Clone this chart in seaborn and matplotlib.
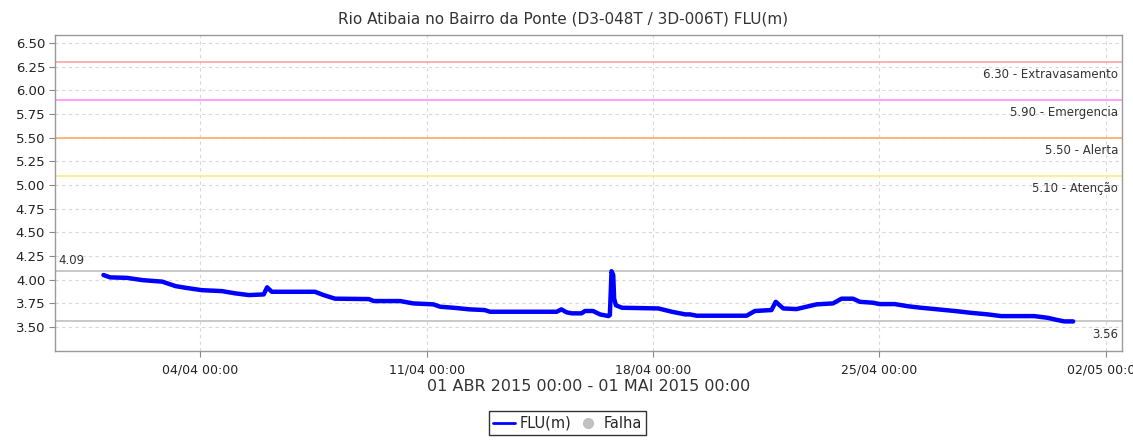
import numpy as np
import pandas as pd
import matplotlib
matplotlib.use('Agg')
from matplotlib import pyplot as plt
from matplotlib.lines import Line2D
import seaborn as sns

# the data
times = ['2015-04-01 00:00', '2015-04-01 05:00', '2015-04-01 17:30', '2015-04-02 05:00',
         '2015-04-02 19:40', '2015-04-03 05:30', '2015-04-03 13:00', '2015-04-04 01:00',
         '2015-04-04 16:00', '2015-04-05 02:00', '2015-04-05 12:00', '2015-04-05 23:00',
         '2015-04-06 01:30', '2015-04-06 05:00', '2015-04-07 13:00', '2015-04-07 19:30',
         '2015-04-08 04:00', '2015-04-09 05:00', '2015-04-09 08:40', '2015-04-10 04:20',
         '2015-04-10 14:00', '2015-04-11 05:00', '2015-04-11 10:00', '2015-04-11 20:00',
         '2015-04-12 08:00', '2015-04-12 19:00', '2015-04-12 23:00', '2015-04-15 00:30',
         '2015-04-15 04:00', '2015-04-15 08:00', '2015-04-15 12:00', '2015-04-15 19:00',
         '2015-04-15 21:30', '2015-04-16 03:30', '2015-04-16 08:40', '2015-04-16 15:00',
         '2015-04-16 16:00', '2015-04-16 17:15', '2015-04-16 18:30', '2015-04-16 19:10',
         '2015-04-16 20:30', '2015-04-17 01:00', '2015-04-18 04:00', '2015-04-18 14:00',
         '2015-04-19 00:00', '2015-04-19 03:30', '2015-04-19 08:30', '2015-04-20 21:30',
         '2015-04-21 03:40', '2015-04-21 16:00', '2015-04-21 19:10', '2015-04-22 00:45',
         '2015-04-22 10:30', '2015-04-22 18:00', '2015-04-23 01:30', '2015-04-23 13:40',
         '2015-04-23 20:00', '2015-04-24 04:30', '2015-04-24 09:40', '2015-04-24 19:30',
         '2015-04-25 00:15', '2015-04-25 11:30', '2015-04-25 21:20', '2015-04-26 07:10',
         '2015-04-26 19:40', '2015-04-27 08:00', '2015-04-27 20:30', '2015-04-28 08:40',
         '2015-04-28 18:30', '2015-04-29 19:10', '2015-04-30 05:00', '2015-04-30 12:30',
         '2015-04-30 17:30', '2015-05-01 00:00']
flu = [4.05, 4.025, 4.02, 3.996,
       3.98, 3.933, 3.915, 3.89,
       3.88, 3.856, 3.838, 3.845,
       3.92, 3.873, 3.873, 3.838,
       3.80, 3.796, 3.775, 3.775,
       3.75, 3.74, 3.715, 3.704,
       3.687, 3.68, 3.662, 3.662,
       3.687, 3.655, 3.645, 3.645,
       3.67, 3.67, 3.634, 3.616,
       3.627, 4.09, 4.05, 3.80,
       3.73, 3.704, 3.697, 3.662,
       3.634, 3.634, 3.62, 3.62,
       3.67, 3.68, 3.767, 3.697,
       3.69, 3.715, 3.74, 3.75,
       3.80, 3.80, 3.767, 3.757,
       3.743, 3.743, 3.72, 3.704,
       3.687, 3.67, 3.65, 3.634,
       3.616, 3.616, 3.598, 3.574,
       3.56, 3.56]

levels = [6.30, 5.90, 5.50, 5.10]
level_names = ['Extravasamento', 'Emergencia', 'Alerta', 'Atenção']
level_colors = ['#ffaaaa', '#ff99ff', '#ffb070', '#ffee88']
xtick_dates = ['2015-04-04', '2015-04-11', '2015-04-18', '2015-04-25', '2015-05-02']

df = pd.DataFrame({'time': pd.to_datetime(times), 'flu': flu})

sns.set_style('white')
plt.rcParams['font.family'] = ['DejaVu Sans']

fig = plt.figure(figsize=(11.33, 4.41), dpi=100)
ax = fig.add_axes([0.0485, 0.204, 0.9415, 0.7166])

# threshold lines with labels
for lv, name, col in zip(levels, level_names, level_colors):
    ax.axhline(lv, color=col, lw=1.3, zorder=2)
    ax.text(0.9965, lv - 0.065, f'{lv:.2f} - {name}', transform=ax.get_yaxis_transform(),
            ha='right', va='top', fontsize=8.5, color='#333333')

# max / min markers
vmax, vmin = df['flu'].max(), df['flu'].min()
ax.axhline(vmax, color='#c0c0c0', lw=1.2, zorder=2)
ax.axhline(vmin, color='#c0c0c0', lw=1.2, zorder=2)
ax.text(0.003, vmax + 0.045, f'{vmax:.2f}', transform=ax.get_yaxis_transform(),
        ha='left', va='bottom', fontsize=8.5, color='#333333')
ax.text(0.9965, vmin - 0.065, f'{vmin:.2f}', transform=ax.get_yaxis_transform(),
        ha='right', va='top', fontsize=8.5, color='#333333')

sns.lineplot(data=df, x='time', y='flu', ax=ax, color='#0000ff', lw=3.2, zorder=3)

pad = pd.Timedelta(days=1.5)
ax.set_xlim(df['time'].min() - pad, df['time'].max() + pad)
ax.set_ylim(3.247, 6.585)
ax.set_yticks(np.arange(3.5, 6.51, 0.25))
ax.set_yticklabels([f'{v:.2f}' for v in np.arange(3.5, 6.51, 0.25)])
xt = pd.to_datetime(xtick_dates)
ax.set_xticks(xt)
ax.set_xticklabels([d.strftime('%d/%m %H:%M') for d in xt])

ax.grid(True, ls=(0, (3, 3)), color='#d8d8d8', lw=0.8)
ax.tick_params(axis='y', labelsize=9.5, length=4, color='#888888', labelcolor='#222222', pad=3)
ax.tick_params(axis='x', labelsize=9, length=4, color='#888888', labelcolor='#222222', pad=5)
ax.tick_params(left=True, bottom=True)
for s in ax.spines.values():
    s.set_color('#999999')
    s.set_linewidth(1)

ax.set_ylabel('')
ax.set_xlabel('01 ABR 2015 00:00 - 01 MAI 2015 00:00', fontsize=11.5, color='#333333', labelpad=2)
fig.text(0.497, 0.958, 'Rio Atibaia no Bairro da Ponte (D3-048T / 3D-006T) FLU(m)',
         ha='center', va='center', fontsize=11, color='#333333')

handles = [Line2D([], [], color='#0000ff', lw=2),
           Line2D([], [], color='#c0c0c0', marker='o', ls='', markersize=7)]
leg = fig.legend(handles, ['FLU(m)', 'Falha'], loc='center', bbox_to_anchor=(0.501, 0.04),
                 ncol=2, frameon=True, fancybox=False, fontsize=10.5, handlelength=1.5,
                 handletextpad=0.3, columnspacing=0.4, borderpad=0.3, borderaxespad=0)
leg.get_frame().set_edgecolor('black')
leg.get_frame().set_linewidth(1)

plt.savefig('out.png', dpi=100)
